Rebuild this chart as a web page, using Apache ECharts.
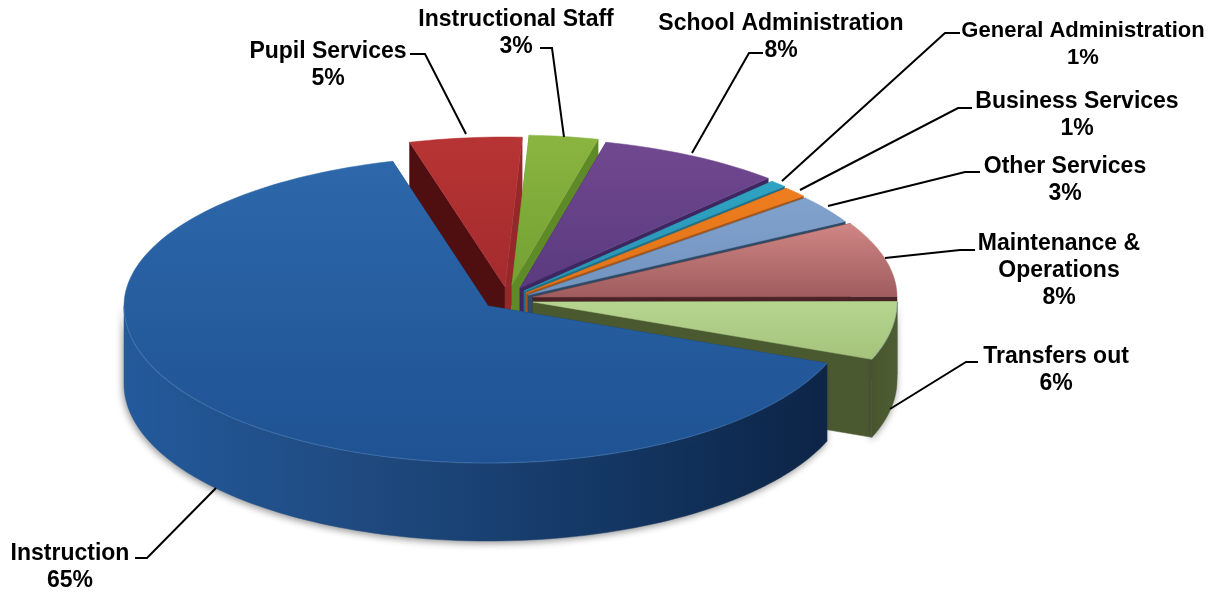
<!DOCTYPE html>
<html>
<head>
<meta charset="utf-8">
<script src="https://cdn.jsdelivr.net/npm/echarts@6/dist/echarts.min.js"></script>
<style>html,body{margin:0;padding:0;background:#fff}#c{width:1228px;height:592px}</style>
</head>
<body>
<div id="c"></div>
<script>
var categories = ['Pupil Services','Instructional Staff','School Administration','General Administration','Business Services','Other Services','Maintenance &\nOperations','Transfers out','Instruction'];
var shares = [4.97,3.05,8.14,0.75,1.1,3.05,8.1,6.0,64.8];

// Styling and layout
var startAngle = -15.2, centre = [488,306], radiusX = 364, radiusYFront = 157, radiusYBack = 150, depth = 78;
var explode = [[17,-19],[24,-21],[32,-18],[36,-15],[38,-13],[40,-11],[45,-9],[45,-4],[0,0]];
var topColors = [['#b83434','#a32b2d'],['#8ab540','#74a033'],['#71488f','#5a3a80'],['#2fa3c2','#2a93b4'],['#ee7d1e','#df7419'],['#81a2cd','#7193bf'],['#d08684','#9f5c5e'],['#b6d58f','#a5c37b'],['#2d68ab','#1e5293']];
var startCut = ['#4f0f10','#5f8a28','#3e2660','#1f6f88','#a5551a','#34526f','#4a2326','#4e5c38','#123a6c'];
var endCut = ['#96282b','#5f8a28','#3e2660','#1f6f88','#a5551a','#2f4a66','#4a2326','#4b5930','#123a6c'];
var wallColors = [['#7a2020','#7a2020'],['#5f8a28','#5f8a28'],['#3e2660','#3e2660'],['#1f6f88','#1f6f88'],['#a5551a','#a5551a'],['#34526f','#34526f'],['#6c3537','#6c3537'],['#47552d','#4f5e33'],['#235a9c','#1f4a80','#143866','#0c2446']];
var labelCentres = [[328,52],[516,20],[781,24],[1083,31],[1077,102],[1065,167],[1059,244],[1056,357],[70,554]];
var labelSizes = [23,23,23,22,23,23,23,23,23];
var leaders = [
  [[410,54],[425,54],[466,134]],
  [[540,48],[552,48],[564,137]],
  [[763,53],[749,53],[692,153]],
  [[960,33],[945,33],[782,181]],
  [[972,108],[958,108],[800,190]],
  [[980,172],[965,172],[828,206]],
  [[975,250],[960,250],[885,258]],
  [[978,362],[966,362],[890,409]],
  [[135,558],[147,558],[216,488]]
];
var lineHeight = 27;

var total = shares.reduce(function(a,b){return a+b;},0);
function sliceAngles(i){
  var before = 0;
  for (var k=0;k<i;k++) before += shares[k];
  return [startAngle + before/total*360, startAngle + (before+shares[i])/total*360];
}
function rim(cx,cy,deg,dy){
  var r = deg*Math.PI/180, c = Math.cos(r);
  return [cx+radiusX*Math.sin(r), cy-(c>0?radiusYBack:radiusYFront)*c+(dy||0)];
}
function arc(cx,cy,a0,a1,dy){
  var pts=[], n=Math.max(2,Math.ceil((a1-a0)/1.5));
  for (var k=0;k<=n;k++) pts.push(rim(cx,cy,a0+(a1-a0)*k/n,dy));
  return pts;
}
function grad(stops,horizontal){
  return new echarts.graphic.LinearGradient(0,0,horizontal?1:0,horizontal?0:1,
    stops.map(function(c,i){return {offset:i/(stops.length-1),color:c};}));
}
function poly(points,fill,extra){
  var el={type:'polygon',shape:{points:points},style:{fill:fill,stroke:fill,lineWidth:0.5}};
  if(extra) for(var k in extra) el.style[k]=extra[k];
  return el;
}
function renderItem(params){
  var i=params.dataIndex, a=sliceAngles(i);
  var cx=centre[0]+explode[i][0], cy=centre[1]+explode[i][1];
  var kids=[];
  // cut faces
  [[a[0],startCut[i]],[a[1],endCut[i]]].forEach(function(f){
    var o=rim(cx,cy,f[0]);
    kids.push(poly([[cx,cy],o,[o[0],o[1]+depth],[cx,cy+depth]],f[1]));
  });
  // front wall
  var w0=Math.max(a[0],90), w1=Math.min(a[1],270);
  if(w1>w0){
    var up=arc(cx,cy,w0,w1,0), low=arc(cx,cy,w0,w1,depth).reverse();
    kids.push(poly(up.concat(low),grad(wallColors[i],true),
      {shadowColor:'rgba(60,60,60,0.55)',shadowBlur:7,shadowOffsetX:-1,shadowOffsetY:2}));
  }
  // top face
  kids.push(poly([[cx,cy]].concat(arc(cx,cy,a[0],a[1],0)),grad(topColors[i],false)));
  if(w1>w0){
    kids.push({type:'polyline',shape:{points:arc(cx,cy,w0,w1,0)},style:{fill:null,stroke:'rgba(120,170,225,0.2)',lineWidth:1.4}});
  }
  // leader
  kids.push({type:'polyline',shape:{points:leaders[i]},style:{fill:null,stroke:'#000',lineWidth:2}});
  // label
  var lines=categories[i].split('\n').concat(Math.round(shares[i])+'%');
  lines.forEach(function(t,k){
    kids.push({type:'text',style:{text:t,x:labelCentres[i][0],y:labelCentres[i][1]+k*lineHeight,
      align:'center',verticalAlign:'middle',fill:'#000',font:'bold '+labelSizes[i]+'px "Liberation Sans", Arial, sans-serif'}});
  });
  return {type:'group',children:kids};
}
var chart=echarts.init(document.getElementById('c'));
chart.setOption({
  animation:false,
  backgroundColor:'#fff',
  series:[{type:'custom',coordinateSystem:'none',renderItem:renderItem,clip:false,silent:true,
    data:shares.map(function(v,i){return {name:categories[i].replace('\n',' '),value:v};})}]
});
</script>
</body>
</html>
